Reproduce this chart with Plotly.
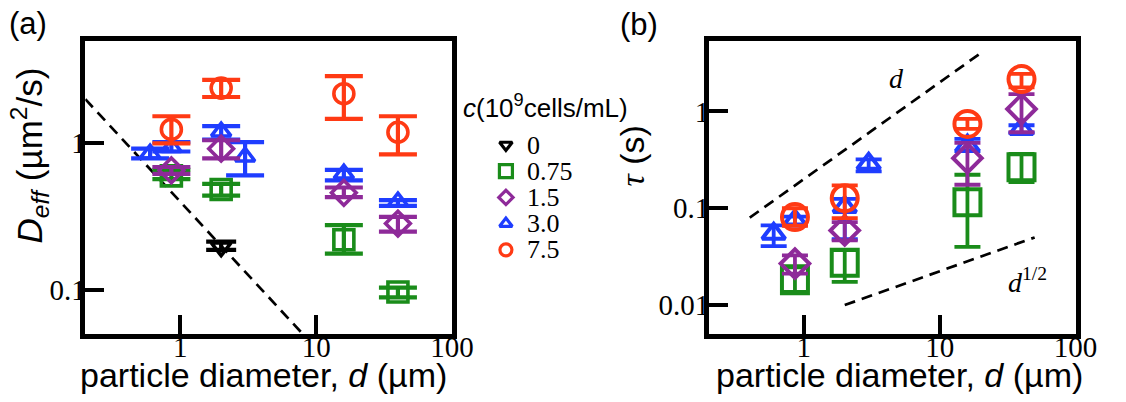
import math
import plotly.graph_objects as go

W, H = 1126, 402

# ---------------- data: panel (a)  D_eff (um^2/s) ----------------
conc_labels = ["0", "0.75", "1.5", "3.0", "7.5"]

d_a_c0 = [2.0]
D_c0 = [0.196]
D_c0_hi = [0.214]
D_c0_lo = [0.188]

d_a_c075 = [0.86, 2.0, 16.0, 40.0]
D_c075 = [0.60, 0.485, 0.22, 0.097]
D_c075_hi = [0.66, 0.53, 0.277, 0.104]
D_c075_lo = [0.57, 0.44, 0.177, 0.089]

d_a_c15 = [0.86, 2.0, 16.0, 40.0]
D_c15 = [0.655, 0.92, 0.46, 0.284]
D_c15_hi = [0.69, 1.05, 0.50, 0.315]
D_c15_lo = [0.62, 0.79, 0.43, 0.25]

d_a_c30 = [0.6, 0.86, 2.0, 3.0, 16.0, 40.0]
D_c30 = [0.85, 0.94, 1.20, 0.81, 0.62, 0.40]
D_c30_hi = [0.92, 1.02, 1.31, 1.02, 0.66, 0.41]
D_c30_lo = [0.79, 0.88, 1.06, 0.605, 0.56, 0.375]

d_a_c75 = [0.86, 2.0, 16.0, 40.0]
D_c75 = [1.245, 2.38, 2.18, 1.19]
D_c75_hi = [1.53, 2.71, 2.87, 1.53]
D_c75_lo = [1.0, 2.07, 1.47, 0.84]

# guide line in (a): D ~ 1/d
guide_a_d = [0.2, 8.0]
guide_a_D = [2.0, 0.05]

# ---------------- data: panel (b)  tau (s) ----------------
d_b_c075 = [0.86, 2.0, 16.0, 40.0]
T_c075 = [0.018, 0.0274, 0.1156, 0.265]
T_c075_hi = [0.0253, 0.037, 0.222, 0.365]
T_c075_lo = [0.0137, 0.0174, 0.0399, 0.186]

d_b_c15 = [0.86, 2.0, 16.0, 40.0]
T_c15 = [0.0268, 0.059, 0.329, 1.06]
T_c15_hi = [0.0326, 0.072, 0.474, 1.51]
T_c15_lo = [0.0211, 0.0466, 0.175, 0.61]

d_b_c30 = [0.6, 0.86, 2.0, 3.0, 16.0, 40.0]
T_c30 = [0.0546, 0.0749, 0.103, 0.288, 0.444, 0.66]
T_c30_hi = [0.0665, 0.082, 0.125, 0.32, 0.52, 0.72]
T_c30_lo = [0.0407, 0.068, 0.048, 0.24, 0.39, 0.60]

d_b_c75 = [0.86, 2.0, 16.0, 40.0]
T_c75 = [0.081, 0.127, 0.743, 2.16]
T_c75_hi = [0.10, 0.172, 0.837, 2.44]
T_c75_lo = [0.066, 0.079, 0.66, 1.77]

# guide lines in (b): tau ~ d and tau ~ d^(1/2)
guide_b1_d = [0.4, 20.0]
guide_b1_T = [0.08, 4.0]
guide_b2_d = [2.0, 50.0]
guide_b2_T = [0.01, 0.05]

x_tickvals = [1, 10, 100]
x_ticktext = ["1", "10", "100"]
ya_tickvals = [0.1, 1]
ya_ticktext = ["0.1", "1"]
yb_tickvals = [0.01, 0.1, 1]
yb_ticktext = ["0.01", "0.1", "1"]

# ---------------- styles ----------------
BLACK = "#000000"
GREEN = "#1A8C1A"
PURPLE = "#8E2A99"
BLUE = "#1F3DFF"
RED = "#FF3A14"
SERIF = "Liberation Serif"
SANS = "Liberation Sans"


def px(x):
    return x / W


def py(y):
    return 1 - y / H


fig = go.Figure()


def add_series(xs, ys, hi, lo, color, symbol, size, xa, ya, capw, thick, lw):
    fig.add_trace(go.Scatter(
        x=xs, y=ys, mode="markers", xaxis=xa, yaxis=ya, showlegend=False,
        marker=dict(symbol=symbol, size=size, color=color, line=dict(width=lw, color=color)),
        error_y=dict(type="data", symmetric=False,
                     array=[h - v for h, v in zip(hi, ys)],
                     arrayminus=[v - l for v, l in zip(ys, lo)],
                     color=color, thickness=thick, width=capw),
    ))


DASH = "11px,7px"
fig.add_trace(go.Scatter(x=guide_a_d, y=guide_a_D, mode="lines", xaxis="x", yaxis="y",
                         showlegend=False, line=dict(color=BLACK, width=2.7, dash=DASH)))
fig.add_trace(go.Scatter(x=guide_b1_d, y=guide_b1_T, mode="lines", xaxis="x2", yaxis="y2",
                         showlegend=False, line=dict(color=BLACK, width=2.7, dash=DASH)))
fig.add_trace(go.Scatter(x=guide_b2_d, y=guide_b2_T, mode="lines", xaxis="x2", yaxis="y2",
                         showlegend=False, line=dict(color=BLACK, width=2.7, dash=DASH)))

# panel (a) series
add_series(d_a_c0, D_c0, D_c0_hi, D_c0_lo, BLACK, "triangle-down-open", 17, "x", "y", 15, 4.2, 3.6)
add_series(d_a_c075, D_c075, D_c075_hi, D_c075_lo, GREEN, "square-open", 20, "x", "y", 19, 4.2, 3.6)
add_series(d_a_c30, D_c30, D_c30_hi, D_c30_lo, BLUE, "triangle-up-open", 17, "x", "y", 19, 4.2, 3.6)
add_series(d_a_c15, D_c15, D_c15_hi, D_c15_lo, PURPLE, "diamond-open", 19, "x", "y", 19, 4.2, 3.6)
add_series(d_a_c75, D_c75, D_c75_hi, D_c75_lo, RED, "circle-open", 20, "x", "y", 19, 4.2, 3.6)

# panel (b) series
add_series(d_b_c075, T_c075, T_c075_hi, T_c075_lo, GREEN, "square-open", 26, "x2", "y2", 13, 3.8, 4)
add_series(d_b_c30, T_c30, T_c30_hi, T_c30_lo, BLUE, "triangle-up-open", 20, "x2", "y2", 13, 3.8, 4)
add_series(d_b_c15, T_c15, T_c15_hi, T_c15_lo, PURPLE, "diamond-open", 22, "x2", "y2", 13, 3.8, 4)
add_series(d_b_c75, T_c75, T_c75_hi, T_c75_lo, RED, "circle-open", 26, "x2", "y2", 13, 3.8, 4)

# ---------------- legend (drawn on a hidden pixel-space axis) ----------------
leg_colors = [BLACK, GREEN, PURPLE, BLUE, RED]
leg_symbols = ["triangle-down-open", "square-open", "diamond-open", "triangle-up-open", "circle-open"]
leg_sizes = [11, 13, 11, 11, 12]
leg_x0, leg_y0, leg_dy, leg_tx = 516, 145, 26.2, 535
for i in range(len(conc_labels)):
    yy = leg_y0 + i * leg_dy
    fig.add_trace(go.Scatter(x=[leg_x0], y=[yy], mode="markers", xaxis="x3", yaxis="y3",
                             showlegend=False, hoverinfo="skip",
                             marker=dict(symbol=leg_symbols[i], size=leg_sizes[i], color=leg_colors[i],
                                         line=dict(width=3.2, color=leg_colors[i]))))
    fig.add_annotation(x=leg_tx, y=yy, xref="x3", yref="y3", text=conc_labels[i], showarrow=False,
                       xanchor="left", yanchor="middle", font=dict(family=SERIF, size=26, color=BLACK))


def minor_vals(lo_exp, hi_exp, lo_val, hi_val):
    out = []
    for e in range(lo_exp, hi_exp + 1):
        for m in range(2, 10):
            v = m * 10 ** e
            if lo_val * 0.999 <= v <= hi_val * 1.001:
                out.append(v)
    return out


def log_axis(domain, rng, tickvals, ticktext, anchor, standoff):
    return dict(type="log", domain=domain, range=rng, anchor=anchor,
                showline=True, linewidth=4.5, linecolor=BLACK, mirror=True,
                ticks="inside", ticklen=19, tickwidth=3.5, tickcolor=BLACK,
                tickmode="array", tickvals=tickvals, ticktext=ticktext,
                tickfont=dict(family=SERIF, size=29, color=BLACK),
                ticklabelstandoff=standoff,
                showgrid=False, zeroline=False, fixedrange=True)


def minor_axis(domain, rng, tickvals, anchor, overlaying, side):
    return dict(type="log", domain=domain, range=rng, anchor=anchor, overlaying=overlaying,
                side=side, showline=False, ticks="inside", ticklen=10, tickwidth=3.5,
                tickcolor=BLACK, tickmode="array", tickvals=tickvals,
                showticklabels=False, showgrid=False, zeroline=False, fixedrange=True)


xdom_a = [px(87), px(461)]
xdom_b = [px(723), px(1097)]
ydom = [py(334.2), py(40.8)]
xr = [math.log10(0.2), 2]
yr_a = [math.log10(0.05), math.log10(5)]
yr_b = [math.log10(0.005), 0.73]

fig.update_layout(
    width=W, height=H, autosize=False,
    margin=dict(l=0, r=0, t=0, b=0),
    paper_bgcolor="white", plot_bgcolor="rgba(0,0,0,0)",
    xaxis=log_axis(xdom_a, xr, x_tickvals, x_ticktext, "y", -17),
    yaxis=log_axis(ydom, yr_a, ya_tickvals, ya_ticktext, "x", -11),
    xaxis2=log_axis(xdom_b, xr, x_tickvals, x_ticktext, "y2", -17),
    yaxis2=log_axis(ydom, yr_b, yb_tickvals, yb_ticktext, "x2", -11),
    xaxis3=dict(domain=[0, 1], range=[0, W], visible=False, anchor="y3", fixedrange=True),
    yaxis3=dict(domain=[0, 1], range=[H, 0], visible=False, anchor="x3", fixedrange=True),
    xaxis4=minor_axis(xdom_a, xr, minor_vals(-1, 1, 0.2, 100), "y", "x", "bottom"),
    yaxis4=minor_axis(ydom, yr_a, minor_vals(-2, 0, 0.05, 5), "x", "y", "left"),
    xaxis5=minor_axis(xdom_b, xr, minor_vals(-1, 1, 0.2, 100), "y2", "x2", "bottom"),
    yaxis5=minor_axis(ydom, yr_b, minor_vals(-3, 0, 0.005, 5.3), "x2", "y2", "left"),
)


def txt(x, y, s, size, family=SANS, angle=0, xanchor="center"):
    fig.add_annotation(x=px(x), y=py(y), xref="paper", yref="paper", text=s, showarrow=False,
                       textangle=angle, xanchor=xanchor, yanchor="middle",
                       font=dict(family=family, size=size, color=BLACK))


txt(29, 23, "(a)", 31)
txt(652, 25, "(b)", 31)
txt(269, 375, "particle diameter, <i>d</i> (µm)", 34)
txt(917, 375, "particle diameter, <i>d</i> (µm)", 34)
txt(30, 155, "<i>D</i><sub><i>eff</i></sub> (µm<sup>2</sup>/s)", 35, angle=-90)
txt(645, 156, "<span style='font-family:Liberation Serif'><i>τ</i></span> (s)", 34, angle=-90)
txt(470, 106, "<i>c</i>(10<sup>9</sup>cells/mL)", 26, xanchor="left")
txt(914, 78, "<i>d</i>", 28, family=SERIF)
txt(1048, 280, "<i>d</i><sup>1/2</sup>", 28, family=SERIF)

fig.write_html("out.html", config={"displayModeBar": False},
               post_script="document.body.style.margin='0';")
